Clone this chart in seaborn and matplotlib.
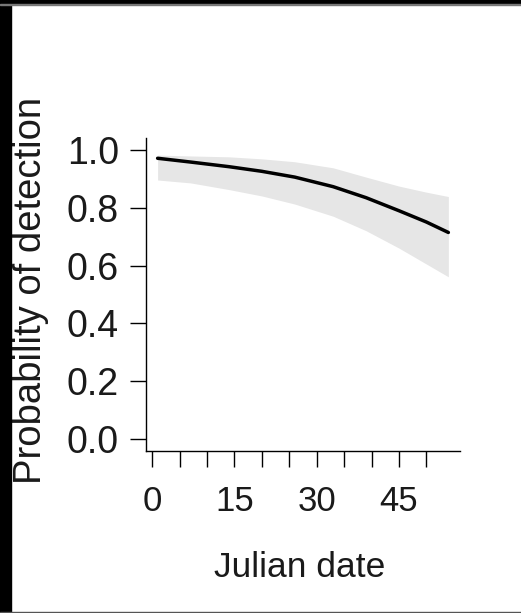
import matplotlib
matplotlib.use("Agg")
import matplotlib.pyplot as plt
import pandas as pd
import seaborn as sns
from matplotlib.patches import Rectangle

# Fitted detection probability with its confidence band, by Julian date
julian_date = [1, 7, 14, 20, 26, 33, 39, 45, 50, 54]
p_detect = [0.970, 0.957, 0.941, 0.925, 0.905, 0.872, 0.834, 0.789, 0.750, 0.714]
ci_lower = [0.895, 0.885, 0.862, 0.840, 0.812, 0.770, 0.720, 0.660, 0.605, 0.561]
ci_upper = [0.981, 0.978, 0.975, 0.968, 0.958, 0.937, 0.905, 0.874, 0.853, 0.838]

x_ticks = [0, 5, 10, 15, 20, 25, 30, 35, 40, 45, 50]
x_tick_labels = ["0", "", "", "15", "", "", "30", "", "", "45", ""]
y_ticks = [0.0, 0.2, 0.4, 0.6, 0.8, 1.0]
y_tick_labels = ["0.0", "0.2", "0.4", "0.6", "0.8", "1.0"]

df = pd.DataFrame({"date": julian_date, "p": p_detect,
                   "lo": ci_lower, "hi": ci_upper})

sns.set_style("ticks")
plt.rcParams["font.family"] = ["Liberation Sans", "DejaVu Sans"]

fig = plt.figure(figsize=(5.21, 6.13), dpi=100)
fig.patch.set_facecolor("white")
ax = fig.add_axes([0.2802, 0.2643, 0.6027, 0.5106])
ax.set_facecolor("white")

ax.fill_between(df["date"], df["lo"], df["hi"], color="#e6e6e6", linewidth=0)
sns.lineplot(data=df, x="date", y="p", color="black", linewidth=2.5, ax=ax)

ax.set_xlim(-1.12, 56.12)
ax.set_ylim(-0.04, 1.04)
ax.set_xticks(x_ticks)
ax.set_xticklabels(x_tick_labels)
ax.set_yticks(y_ticks)
ax.set_yticklabels(y_tick_labels)

for side in ("top", "right"):
    ax.spines[side].set_visible(False)
for side in ("left", "bottom"):
    ax.spines[side].set_color("black")
    ax.spines[side].set_linewidth(1.0)

ax.tick_params(axis="both", length=11.5, width=1.0, color="black",
               labelcolor="#1a1a1a")
ax.tick_params(axis="y", pad=8, labelsize=27)
ax.tick_params(axis="x", pad=13, labelsize=25)

ax.set_xlabel("Julian date", fontsize=25.5, color="#1a1a1a")
ax.set_ylabel("Probability of detection", fontsize=27.5, color="#1a1a1a")
ax.xaxis.set_label_coords(0.49, -0.372)
ax.xaxis.label.set_va("center")
ax.yaxis.set_label_coords(-0.367, 0.514)
ax.yaxis.label.set_va("center")

# Dark frame strips along the left and top edges, thin line at the bottom
fig.add_artist(Rectangle((0, 0), 11 / 521, 1, transform=fig.transFigure,
                         color="black", zorder=10))
fig.add_artist(Rectangle((0, 1 - 4 / 613), 1, 4 / 613, transform=fig.transFigure,
                         color="black", zorder=10))
fig.add_artist(Rectangle((0, 1 - 5 / 613), 1, 1 / 613, transform=fig.transFigure,
                         color="#777777", zorder=10))
fig.add_artist(Rectangle((0, 0), 1, 1.5 / 613, transform=fig.transFigure,
                         color="#555555", zorder=10))

fig.savefig("out.png", dpi=100)
